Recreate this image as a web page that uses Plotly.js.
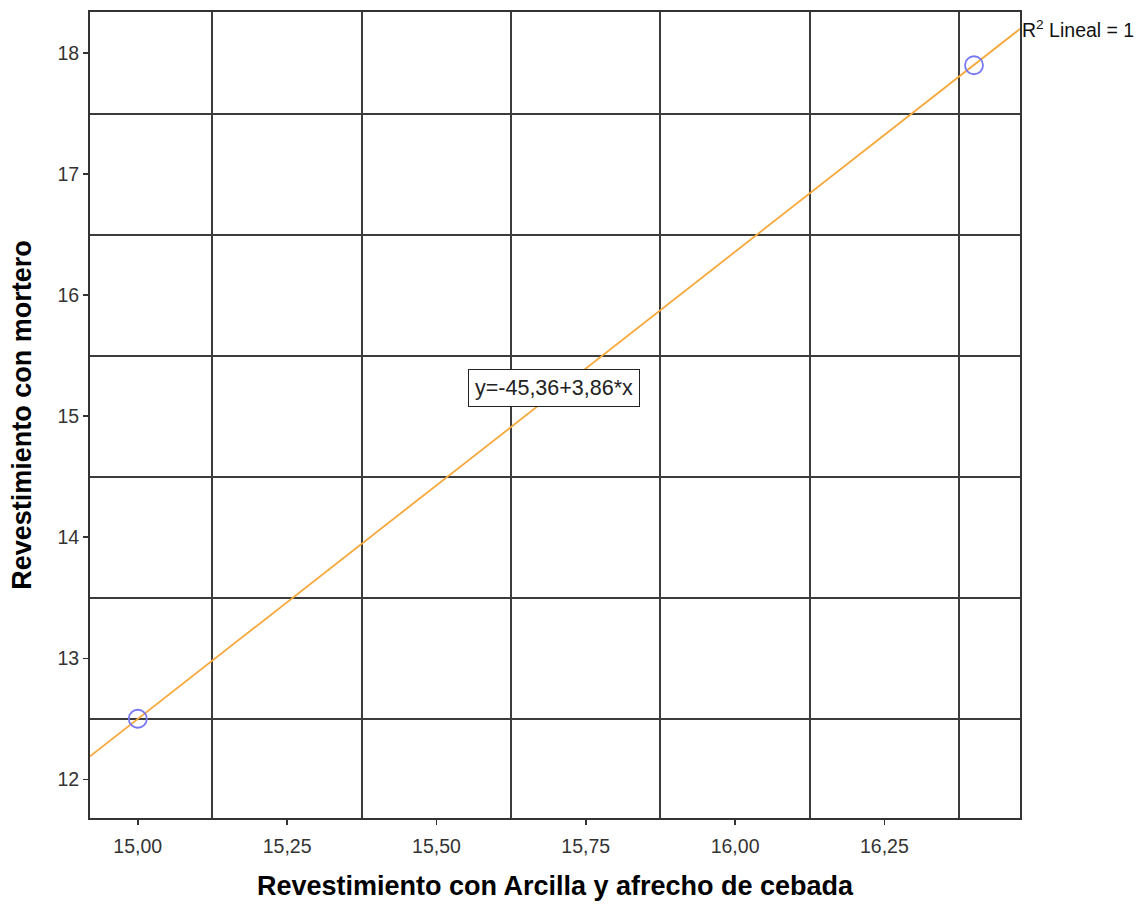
<!DOCTYPE html>
<html>
<head>
<meta charset="utf-8">
<script src="https://cdn.plot.ly/plotly-3.0.1.min.js"></script>
<style>html,body{margin:0;padding:0;background:#fff;}#chart{width:1142px;height:905px;}</style>
</head>
<body>
<div id="chart"></div>
<script>
// Observed points
var pointsX = [15.00, 16.40];
var pointsY = [12.50, 17.90];
// Fit line endpoints (edges of the plot area)
var fitX = [14.92, 16.477];
var fitY = [12.19, 18.20];
// Axis ticks
var xTickVals = [15.00, 15.25, 15.50, 15.75, 16.00, 16.25];
var xTickText = ["15,00", "15,25", "15,50", "15,75", "16,00", "16,25"];
var yTickVals = [12, 13, 14, 15, 16, 17, 18];
var yTickText = ["12", "13", "14", "15", "16", "17", "18"];
// Grid line positions (between ticks)
var xGridVals = [15.125, 15.375, 15.625, 15.875, 16.125, 16.375];
var yGridVals = [12.5, 13.5, 14.5, 15.5, 16.5, 17.5];
var equationText = "y=-45,36+3,86*x";
var r2Text = "R<sup>2</sup> Lineal = 1";

var traces = [
  {
    x: fitX, y: fitY, mode: 'lines', type: 'scatter',
    line: {color: '#f7a83c', width: 1.8},
    hoverinfo: 'skip', showlegend: false
  },
  {
    x: pointsX, y: pointsY, mode: 'markers', type: 'scatter',
    marker: {symbol: 'circle-open', size: 18, color: '#7878f5', line: {width: 1.8, color: '#7878f5'}},
    showlegend: false
  }
];

var axisFont = {family: 'Liberation Sans, Arial, sans-serif', size: 19.5, color: '#333'};
var titleFont = {family: 'Liberation Sans, Arial, sans-serif', size: 27, color: '#000', weight: 'bold'};

var layout = {
  width: 1142, height: 905,
  margin: {l: 90, r: 122, t: 12, b: 87},
  paper_bgcolor: '#fff', plot_bgcolor: '#fff',
  showlegend: false,
  font: {family: 'Liberation Sans, Arial, sans-serif', color: '#000'},
  xaxis: {
    range: [14.92, 16.477],
    tickmode: 'array', tickvals: xTickVals, ticktext: xTickText,
    ticks: 'outside', ticklen: 5, tickwidth: 1.5, tickcolor: '#333',
    ticklabelstandoff: 5,
    tickfont: axisFont,
    showgrid: false, zeroline: false,
    showline: true, linecolor: '#333', linewidth: 2, mirror: true,
    minor: {tickmode: 'array', tickvals: xGridVals, showgrid: true, gridcolor: '#3c3c3c', gridwidth: 2, ticks: ''},
    title: {text: 'Revestimiento con Arcilla y afrecho de cebada', font: titleFont, standoff: 20},
    automargin: false
  },
  yaxis: {
    range: [11.68, 18.34],
    tickmode: 'array', tickvals: yTickVals, ticktext: yTickText,
    ticks: 'outside', ticklen: 5, tickwidth: 1.5, tickcolor: '#333',
    tickfont: axisFont,
    showgrid: false, zeroline: false,
    showline: true, linecolor: '#333', linewidth: 2, mirror: true,
    minor: {tickmode: 'array', tickvals: yGridVals, showgrid: true, gridcolor: '#3c3c3c', gridwidth: 2, ticks: ''},
    title: {text: 'Revestimiento con mortero', font: titleFont, standoff: 18},
    automargin: false
  },
  annotations: [
    {
      x: 15.697, y: 15.23, xref: 'x', yref: 'y',
      text: equationText, showarrow: false,
      font: {family: 'Liberation Sans, Arial, sans-serif', size: 21.5, color: '#222'},
      bgcolor: '#fff', bordercolor: '#222', borderwidth: 1, borderpad: 6
    },
    {
      x: 1, y: 18.2, xref: 'paper', yref: 'y',
      xanchor: 'left', yanchor: 'middle',
      text: r2Text, showarrow: false,
      font: {family: 'Liberation Sans, Arial, sans-serif', size: 19.5, color: '#111'}
    }
  ]
};

Plotly.newPlot('chart', traces, layout, {displayModeBar: false, staticPlot: true});
</script>
</body>
</html>
